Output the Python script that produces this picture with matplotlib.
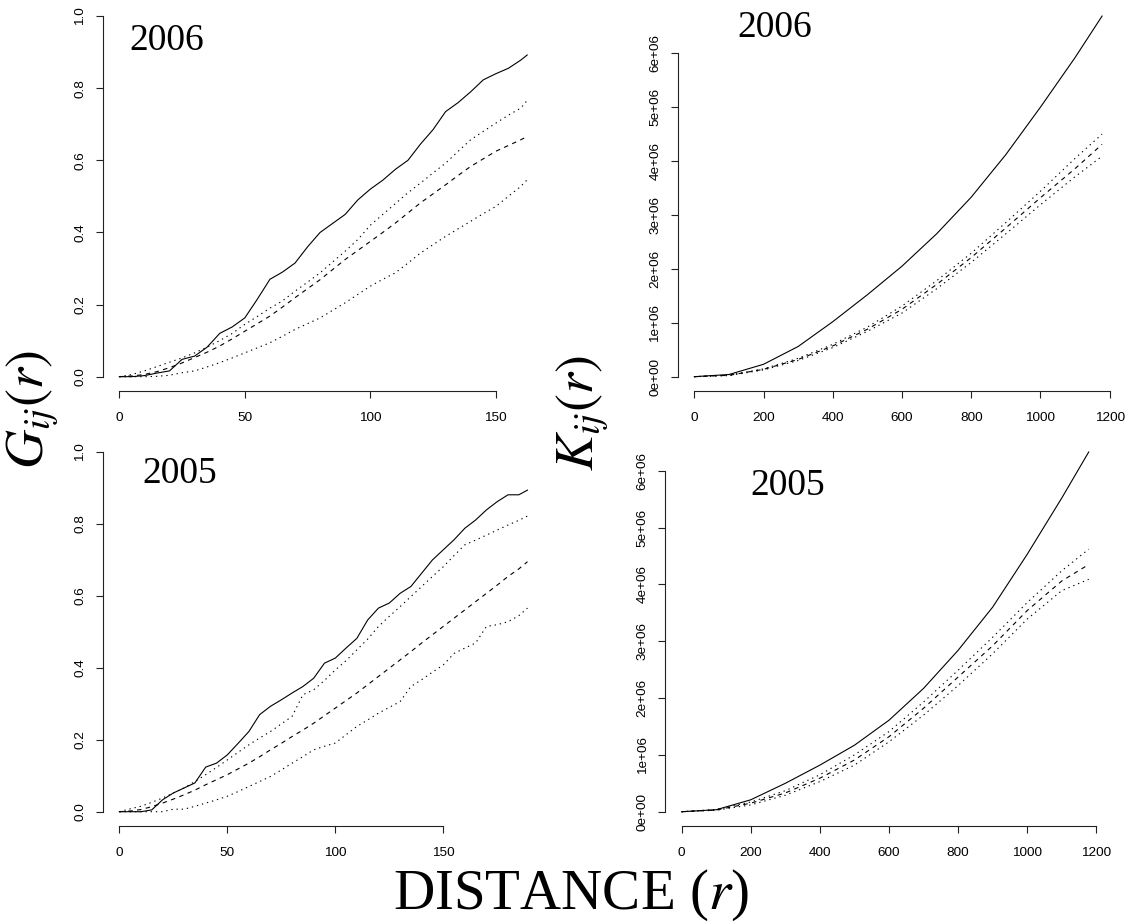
import matplotlib
matplotlib.use("Agg")
import matplotlib.pyplot as plt

# ---- data ----
# G function, 2006 (top left)
r_g06 = [0, 5, 10, 15, 20, 25, 30, 35, 40, 45, 50, 55, 60, 65, 70, 75, 80, 85, 90,
         95, 100, 105, 110, 115, 120, 125, 130, 135, 140, 145, 150, 155, 160, 162.5]
g06_obs = [0, 0, 0.003, 0.01, 0.016, 0.048, 0.057, 0.082, 0.12, 0.138, 0.163, 0.215,
           0.27, 0.29, 0.315, 0.36, 0.40, 0.425, 0.45, 0.49, 0.52, 0.545, 0.575, 0.60,
           0.645, 0.685, 0.735, 0.76, 0.79, 0.823, 0.84, 0.855, 0.878, 0.892]
g06_hi = [0, 0.006, 0.016, 0.028, 0.04, 0.052, 0.066, 0.082, 0.10, 0.12, 0.145, 0.167,
          0.19, 0.21, 0.237, 0.262, 0.288, 0.318, 0.348, 0.38, 0.42, 0.45, 0.48, 0.51,
          0.537, 0.565, 0.592, 0.625, 0.657, 0.68, 0.703, 0.725, 0.745, 0.766]
g06_theo = [0, 0.002, 0.006, 0.014, 0.025, 0.038, 0.053, 0.068, 0.085, 0.105, 0.126,
            0.147, 0.168, 0.193, 0.219, 0.244, 0.269, 0.297, 0.325, 0.35, 0.375, 0.40,
            0.426, 0.454, 0.482, 0.507, 0.532, 0.558, 0.583, 0.604, 0.625, 0.641, 0.657, 0.666]
g06_lo = [0, 0, 0, 0.001, 0.004, 0.011, 0.016, 0.027, 0.039, 0.052, 0.066, 0.08, 0.094,
          0.112, 0.131, 0.147, 0.163, 0.184, 0.205, 0.228, 0.251, 0.27, 0.288, 0.315,
          0.343, 0.366, 0.389, 0.41, 0.431, 0.452, 0.472, 0.50, 0.528, 0.546]

# G function, 2005 (bottom left)
r_g05 = [0, 5, 10, 15, 20, 25, 30, 35, 40, 45, 50, 55, 60, 65, 70, 75, 80, 85, 90, 95,
         100, 105, 110, 115, 120, 125, 130, 135, 140, 145, 150, 155, 160, 165, 170, 175,
         180, 185, 189]
g05_obs = [0, 0, 0, 0.005, 0.033, 0.052, 0.066, 0.08, 0.124, 0.135, 0.158, 0.19, 0.223,
           0.27, 0.293, 0.311, 0.33, 0.348, 0.371, 0.413, 0.427, 0.455, 0.482, 0.533,
           0.566, 0.58, 0.607, 0.626, 0.663, 0.70, 0.728, 0.756, 0.788, 0.811, 0.839,
           0.862, 0.881, 0.881, 0.894]
g05_hi = [0, 0.008, 0.015, 0.026, 0.038, 0.052, 0.066, 0.084, 0.103, 0.123, 0.144, 0.165,
          0.186, 0.205, 0.223, 0.244, 0.265, 0.325, 0.339, 0.365, 0.394, 0.42, 0.45, 0.48,
          0.515, 0.543, 0.57, 0.598, 0.626, 0.654, 0.681, 0.712, 0.742, 0.755, 0.769,
          0.783, 0.797, 0.81, 0.822]
g05_theo = [0, 0.002, 0.006, 0.014, 0.024, 0.035, 0.047, 0.06, 0.075, 0.089, 0.103, 0.119,
            0.135, 0.153, 0.172, 0.19, 0.209, 0.227, 0.246, 0.267, 0.288, 0.309, 0.33,
            0.353, 0.376, 0.399, 0.422, 0.445, 0.469, 0.492, 0.515, 0.538, 0.561, 0.584,
            0.607, 0.63, 0.654, 0.675, 0.695]
g05_lo = [0, 0, 0, 0, 0, 0.007, 0.007, 0.015, 0.024, 0.033, 0.043, 0.056, 0.07, 0.084,
          0.098, 0.116, 0.135, 0.153, 0.172, 0.182, 0.191, 0.214, 0.237, 0.255, 0.274,
          0.29, 0.306, 0.348, 0.367, 0.388, 0.408, 0.44, 0.455, 0.469, 0.515, 0.52,
          0.528, 0.545, 0.566]

# K function (in millions), both years
r_k = [0, 100, 200, 300, 400, 500, 600, 700, 800, 900, 1000, 1100, 1178]
k06_obs = [0, 0.04, 0.23, 0.56, 1.02, 1.52, 2.05, 2.65, 3.33, 4.12, 5.00, 5.92, 6.69]
k06_hi = [0, 0.03, 0.145, 0.34, 0.60, 0.92, 1.31, 1.78, 2.29, 2.86, 3.44, 4.05, 4.50]
k06_theo = [0, 0.025, 0.136, 0.32, 0.57, 0.88, 1.25, 1.71, 2.21, 2.76, 3.32, 3.86, 4.31]
k06_lo = [0, 0.02, 0.125, 0.30, 0.54, 0.84, 1.18, 1.63, 2.12, 2.65, 3.19, 3.71, 4.09]

k05_obs = [0, 0.035, 0.21, 0.50, 0.82, 1.17, 1.61, 2.17, 2.84, 3.60, 4.53, 5.52, 6.33]
k05_hi = [0, 0.04, 0.17, 0.37, 0.65, 1.00, 1.41, 1.93, 2.49, 3.07, 3.68, 4.24, 4.62]
k05_theo = [0, 0.03, 0.15, 0.33, 0.59, 0.91, 1.32, 1.82, 2.37, 2.92, 3.54, 4.06, 4.35]
k05_lo = [0, 0.025, 0.12, 0.29, 0.53, 0.82, 1.23, 1.70, 2.22, 2.78, 3.39, 3.89, 4.09]

g_ticks_x = [0, 50, 100, 150]
g_ticks_y = [0.0, 0.2, 0.4, 0.6, 0.8, 1.0]
k_ticks_x = [0, 200, 400, 600, 800, 1000, 1200]
k_ticks_y = [0, 1e6, 2e6, 3e6, 4e6, 5e6, 6e6]
k_tick_labels = ["0e+00", "1e+06", "2e+06", "3e+06", "4e+06", "5e+06", "6e+06"]

W, H = 1134, 922
plt.rcParams["mathtext.fontset"] = "stix"
fig = plt.figure(figsize=(W / 100, H / 100), dpi=100)
fig.patch.set_facecolor("white")

TICKFONT = "Liberation Sans"
SERIF = "Liberation Serif"


def panel(l, t, r, b):
    # place a plot region given in pixel edges
    return fig.add_axes([l / W, 1 - b / H, (r - l) / W, (b - t) / H])


def style(ax, x, ys, xt, yt, ylab=None, ylim=None):
    obs, hi, theo, lo = ys
    ax.plot(x, obs, color="black", lw=0.8)
    ax.plot(x, hi, color="black", lw=0.8, dashes=(1.2, 3.5))
    ax.plot(x, theo, color="black", lw=0.8, dashes=(4, 4))
    ax.plot(x, lo, color="black", lw=0.8, dashes=(1.2, 3.5))
    xmax = max(x)
    ax.set_xlim(-0.04 * xmax, 1.04 * xmax)
    if ylim is None:
        ymax = max(max(obs), max(hi))
        ax.set_ylim(-0.04 * ymax, 1.04 * ymax)
    else:
        ax.set_ylim(*ylim)
    for s in ["top", "right"]:
        ax.spines[s].set_visible(False)
    for s in ["left", "bottom"]:
        ax.spines[s].set_linewidth(0.8)
        ax.spines[s].set_color("#222222")
    ax.spines["bottom"].set_bounds(xt[0], xt[-1])
    ax.spines["left"].set_bounds(yt[0], yt[-1])
    ax.set_xticks(xt)
    ax.set_yticks(yt)
    if ylab is not None:
        ax.set_yticklabels(ylab)
    else:
        ax.set_yticklabels(["%.1f" % v for v in yt])
    ax.tick_params(direction="out", length=5.2, width=0.8, color="#222222",
                   labelsize=9.7)
    ax.tick_params(axis="x", pad=9.5)
    ax.tick_params(axis="y", pad=6.8)
    for lab in ax.get_xticklabels():
        lab.set_fontfamily(TICKFONT)
    for lab in ax.get_yticklabels():
        lab.set_fontfamily(TICKFONT)
        lab.set_rotation(90)
        lab.set_va("center")
        lab.set_ha("right")
    ax.patch.set_alpha(0)


ax1 = panel(103.0, 1.6, 543.5, 391.1)
style(ax1, r_g06, (g06_obs, g06_hi, g06_theo, g06_lo), g_ticks_x, g_ticks_y,
      ylim=(-0.04, 1.04))

ax3 = panel(103.0, 437.6, 543.8, 826.1)
style(ax3, r_g05, (g05_obs, g05_hi, g05_theo, g05_lo), g_ticks_x, g_ticks_y,
      ylim=(-0.04, 1.04))

m = 1e6
ax2 = panel(678.0, 1.6, 1118.4, 391.1)
style(ax2, r_k, ([v * m for v in k06_obs], [v * m for v in k06_hi],
                 [v * m for v in k06_theo], [v * m for v in k06_lo]),
      k_ticks_x, k_ticks_y, ylab=k_tick_labels)

ax4 = panel(665.4, 437.6, 1105.0, 826.1)
style(ax4, r_k, ([v * m for v in k05_obs], [v * m for v in k05_hi],
                 [v * m for v in k05_theo], [v * m for v in k05_lo]),
      k_ticks_x, k_ticks_y, ylab=k_tick_labels)

# year labels
for (x, y, s) in [(129.5, 50, "2006"), (737.5, 36.7, "2006"),
                  (142.4, 483.3, "2005"), (750.3, 495, "2005")]:
    fig.text(x / W, 1 - y / H, s, fontsize=27, family=SERIF, ha="left", va="baseline")

# big axis titles
fig.text(44 / W, 1 - 410 / H, r"$G_{ij}(r)$", fontsize=39, rotation=90,
         rotation_mode="anchor", ha="center", va="baseline")
fig.text(594 / W, 1 - 413 / H, r"$K_{ij}(r)$", fontsize=39, rotation=90,
         rotation_mode="anchor", ha="center", va="baseline")
fig.text(571 / W, 1 - 909 / H, r"DISTANCE ($r$)", fontsize=41, family=SERIF,
         ha="center", va="baseline")

fig.savefig("out.png", dpi=100, facecolor="white")
